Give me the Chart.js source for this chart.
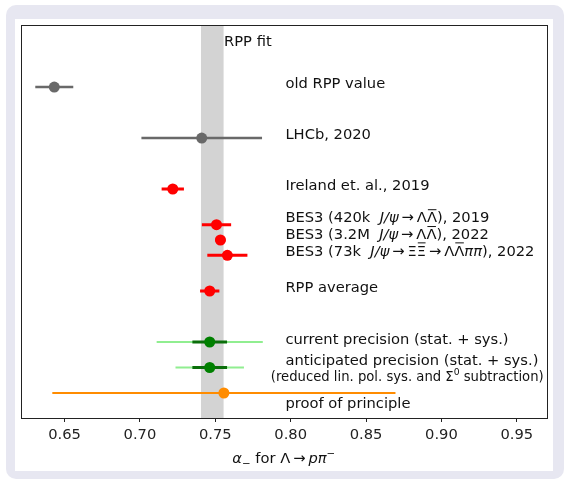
<!DOCTYPE html>
<html>
<head>
<meta charset="utf-8">
<script src="https://cdn.jsdelivr.net/npm/chart.js@4.4.1/dist/chart.umd.min.js"></script>
<style>
  html, body { margin: 0; padding: 0; background: #ffffff; width: 565px; height: 480px; overflow: hidden; }
  #frame { position: absolute; left: 6px; top: 5px; width: 558px; height: 474px; background: #e7e7f1; border-radius: 10px; }
  #inner { position: absolute; left: 15px; top: 19px; width: 538px; height: 452px; background: #ffffff; }
  canvas { display: block; }
</style>
</head>
<body>
<div id="frame"></div>
<div id="inner"><canvas id="c" width="538" height="452"></canvas></div>
<script>
// ---------------- data ----------------
const entryNames = ['old RPP value', 'LHCb, 2020', 'Ireland et. al., 2019',
  'BES3 420k 2019', 'BES3 3.2M 2022', 'BES3 73k 2022', 'RPP average',
  'current precision', 'anticipated precision', 'proof of principle'];
const rowY        = [10, 9, 8, 7.3, 7.0, 6.7, 6, 5, 4.5, 4];
const alphaValues = [0.6432, 0.7410, 0.7218, 0.7508, 0.7534, 0.7580, 0.7463, 0.7463, 0.7463, 0.7557];
const totalErrors = [0.0126, 0.0400, 0.0074, 0.0097, 0.0034, 0.0133, 0.0064, 0.0352, 0.0227, 0.1138];
const innerErrors = [null, null, null, null, null, null, null, 0.0115, 0.0115, null];
const rppFitBand  = [0.7405, 0.7555];
const tickValues  = [0.65, 0.70, 0.75, 0.80, 0.85, 0.90, 0.95];
const xRange = [0.6208, 0.9700];
const yRange = [3.51, 11.216];

// labels (rich text segments: [text, style]; style: i=italic, ob=overbar, sup, sub)
const arrow = '\u2009\u2192\u2009';
const labelTexts = [
  [['old RPP value']],
  [['LHCb, 2020']],
  [['Ireland et. al., 2019']],
  [['BES3 (420k  '], ['J/\u03c8', 'i'], [arrow], ['\u039b'], ['\u039b', 'ob'], ['), 2019']],
  [['BES3 (3.2M  '], ['J/\u03c8', 'i'], [arrow], ['\u039b'], ['\u039b', 'ob'], ['), 2022']],
  [['BES3 (73k  '], ['J/\u03c8', 'i'], [arrow], ['\u039e'], ['\u039e', 'ob'], [arrow], ['\u039b'], ['\u039b', 'ob'], ['\u03c0\u03c0', 'i'], ['), 2022']],
  [['RPP average']],
  [['current precision (stat. + sys.)']],
  [['anticipated precision (stat. + sys.)']],
  [['proof of principle']]
];
const labelY = [10.08, 9.08, 8.08, 7.45, 7.12, 6.80, 6.08, 5.06, 4.65, 3.81];
const labelX = 0.7965;
const extraTexts = [
  { segs: [['RPP fit']], x: 0.7558, y: 10.90, size: 14.7 },
  { segs: [['(reduced lin. pol. sys. and \u03a3'], ['0', 'sup'], [' subtraction)']], x: 0.7868, y: 4.33, size: 13.2 }
];
const axisTitle = [['\u03b1', 'i'], ['\u2212', 'sub'], [' for \u039b'], [arrow], ['p', 'i'], ['\u03c0', 'i'], ['\u2212', 'sup']];

// ---------------- styles ----------------
const markerColors = ['#696969', '#696969', '#ff0000', '#ff0000', '#ff0000', '#ff0000', '#ff0000', '#008000', '#008000', '#ff8c00'];
const barColors    = ['#696969', '#696969', '#ff0000', '#ff0000', '#ff0000', '#ff0000', '#ff0000', '#90ee90', '#90ee90', '#ff8c00'];
const barWidths    = [2.5, 2.5, 3, 3, 3, 3, 3, 2, 2, 2];
const innerColor = '#0a6e0a';
const FONT = '"DejaVu Sans", "Liberation Sans", sans-serif';
const FS = 14.7;

// ---------------- datasets ----------------
const datasets = [];
entryNames.forEach((name, i) => {
  datasets.push({
    label: name + ' error', type: 'scatter', showLine: true, order: 2,
    data: [{ x: alphaValues[i] - totalErrors[i], y: rowY[i] }, { x: alphaValues[i] + totalErrors[i], y: rowY[i] }],
    borderColor: barColors[i], borderWidth: barWidths[i], pointRadius: 0, borderCapStyle: 'butt'
  });
  if (innerErrors[i] !== null) {
    datasets.push({
      label: name + ' inner error', type: 'scatter', showLine: true, order: 1,
      data: [{ x: alphaValues[i] - innerErrors[i], y: rowY[i] }, { x: alphaValues[i] + innerErrors[i], y: rowY[i] }],
      borderColor: innerColor, borderWidth: 3, pointRadius: 0, borderCapStyle: 'butt'
    });
  }
  datasets.push({
    label: name, type: 'scatter', order: 0,
    data: [{ x: alphaValues[i], y: rowY[i] }],
    backgroundColor: markerColors[i], borderColor: markerColors[i], borderWidth: 0, pointRadius: 5.5
  });
});

// ---------------- rich text ----------------
function segFont(style, size) {
  const it = style && style.indexOf('i') >= 0;
  const small = style === 'sup' || style === 'sub';
  return (it ? 'oblique ' : '') + (small ? size * 0.7 : size) + 'px ' + FONT;
}
function drawRich(ctx, segs, x, yCenter, size, align) {
  let total = 0;
  const widths = segs.map(s => { ctx.font = segFont(s[1], size); const w = ctx.measureText(s[0]).width; total += w; return w; });
  let cx = align === 'center' ? x - total / 2 : x;
  const base = yCenter + size * 0.36;
  ctx.textAlign = 'left';
  ctx.textBaseline = 'alphabetic';
  segs.forEach((s, k) => {
    ctx.font = segFont(s[1], size);
    let by = base;
    if (s[1] === 'sup') by = base - size * 0.42;
    if (s[1] === 'sub') by = base + size * 0.22;
    ctx.fillText(s[0], cx, by);
    if (s[1] === 'ob') {
      ctx.save();
      ctx.lineWidth = 1;
      ctx.strokeStyle = ctx.fillStyle;
      ctx.beginPath();
      ctx.moveTo(cx + 1, base - size * 0.86);
      ctx.lineTo(cx + widths[k] - 0.5, base - size * 0.86);
      ctx.stroke();
      ctx.restore();
    }
    cx += widths[k];
  });
}

const decor = {
  id: 'decor',
  beforeDatasetsDraw(chart) {
    const { ctx, chartArea: a, scales: { x } } = chart;
    const x0 = x.getPixelForValue(rppFitBand[0]);
    const x1 = x.getPixelForValue(rppFitBand[1]);
    ctx.save();
    ctx.fillStyle = '#d3d3d3';
    ctx.fillRect(x0, a.top, x1 - x0, a.bottom - a.top);
    ctx.restore();
  },
  afterDatasetsDraw(chart) {
    const { ctx, chartArea: a, scales: { x, y } } = chart;
    ctx.save();
    ctx.fillStyle = '#111111';
    labelTexts.forEach((segs, i) => {
      drawRich(ctx, segs, x.getPixelForValue(labelX), y.getPixelForValue(labelY[i]), FS, 'left');
    });
    extraTexts.forEach(t => {
      drawRich(ctx, t.segs, x.getPixelForValue(t.x), y.getPixelForValue(t.y), t.size, 'left');
    });
    drawRich(ctx, axisTitle, (a.left + a.right) / 2, a.bottom + 40, FS, 'center');
    ctx.strokeStyle = '#222222';
    ctx.lineWidth = 1;
    ctx.strokeRect(Math.round(a.left) + 0.5, Math.round(a.top) + 0.5, Math.round(a.right - a.left) - 1, Math.round(a.bottom - a.top));
    ctx.restore();
  }
};

new Chart(document.getElementById('c'), {
  type: 'scatter',
  data: { datasets },
  options: {
    responsive: false,
    animation: false,
    devicePixelRatio: 1,
    layout: { padding: { left: 5, right: 6, top: 6, bottom: 0 } },
    plugins: { legend: { display: false }, tooltip: { enabled: false } },
    scales: {
      x: {
        type: 'linear', min: xRange[0], max: xRange[1],
        afterBuildTicks: s => { s.ticks = tickValues.map(v => ({ value: v })); },
        afterFit: s => { s.height = 53; },
        ticks: { color: '#222222', font: { family: FONT, size: FS }, padding: 4, maxRotation: 0,
          callback: v => Number(v).toFixed(2) },
        grid: { display: true, drawOnChartArea: false, drawTicks: true, tickLength: 4, tickColor: '#222222' },
        border: { display: false }
      },
      y: {
        type: 'linear', min: yRange[0], max: yRange[1], display: false
      }
    }
  },
  plugins: [decor]
});
</script>
</body>
</html>
